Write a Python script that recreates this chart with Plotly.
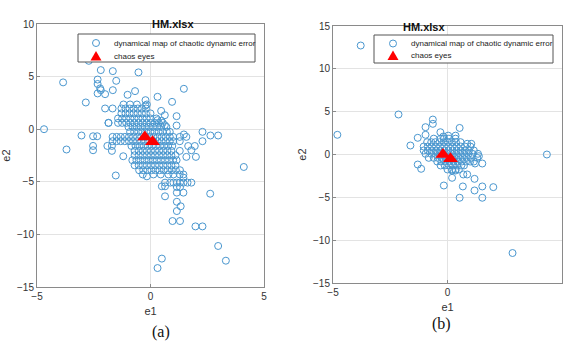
import plotly.graph_objects as go

# ---------------- Panel (a) data ----------------
# dense grid-like rows: (e2 value, list of e1 values)
rows_a = [
    (2.35, [-1.19, -0.9, -0.6, -0.16]),
    (1.97, [-2.0, -1.67, -1.28, -1.1, -0.92, -0.74, -0.56, -0.38, -0.2]),
    (1.5, [-1.28, -1.1, -0.92, -0.74, -0.56, -0.38, -0.2, 0.0]),
    (1.02, [-1.43, -1.25, -1.07, -0.89, -0.71, -0.53, -0.35, -0.17, 0.0, 0.26]),
    (0.6, [-1.85, -1.43, -1.25, -1.07, -0.89, -0.71, -0.53, -0.35, -0.17, 0.0, 0.18, 0.36, 0.54]),
    (0.22, [-0.97, -0.79, -0.61, -0.43, -0.25, -0.07, 0.11, 0.29, 0.47, 0.7]),
    (-0.25, [-0.9, -0.72, -0.54, -0.36, -0.18, 0.0, 0.18, 0.36, 0.54, 0.72, 0.85]),
    (-0.73, [-1.67, -1.49, -1.31, -1.13, -0.95, -0.77, -0.59, -0.41, -0.23, -0.05, 0.13, 0.31, 0.49, 0.67, 0.85, 1.0, 1.29, 1.58]),
    (-1.14, [-1.67, -1.49, -1.31, -1.13, -0.95, -0.77, -0.59, -0.41, -0.23, -0.05, 0.13, 0.31, 0.49, 0.67, 0.85, 1.0, 1.29]),
    (-1.59, [-1.9, -1.7, -0.84, -0.66, -0.48, -0.3, -0.12, 0.06, 0.24, 0.42, 0.6, 0.78, 0.96]),
    (-2.06, [-1.7, -0.7, -0.52, -0.34, -0.16, 0.02, 0.2, 0.38, 0.56, 0.74, 0.92, 1.29]),
    (-2.48, [-0.7, -0.52, -0.34, -0.16, 0.02, 0.2, 0.38, 0.56, 0.74, 0.92, 1.1]),
    (-2.95, [-0.8, -0.62, -0.44, -0.26, -0.08, 0.1, 0.28, 0.46, 0.64, 0.82, 1.0, 1.15]),
    (-3.43, [-0.7, -0.52, -0.34, -0.16, 0.02, 0.2, 0.38, 0.56, 0.74, 0.92, 1.1]),
    (-3.9, [-0.5, -0.32, -0.14, 0.04, 0.22, 0.4, 0.58, 0.76, 0.94, 1.12, 1.3]),
    (-4.3, [-0.34, 0.13, 0.45, 0.79, 1.01, 1.29, 1.45]),
    (-5.08, [0.64, 0.87, 1.01, 1.16, 1.3, 1.45, 1.63, 1.8]),
]
# scattered points
extra_e1_a = [-4.69, -3.85, -3.7, -3.04, -2.85, -2.72, -2.53, -2.35, -2.53, -2.53,
              -2.33, -2.33, -2.22, -2.19, -2.33, -2.0, -2.19, -1.66, -0.53, -1.51,
              -1.66, -1.01, -0.68, -1.53, -1.2, -0.22, 0.31, 0.95, 1.47, 0.47,
              0.63, 1.15, 1.15, 0.63, 0.31, 0.48, 2.29, 2.29, 2.64, 2.98,
              1.47, 1.66, 1.95, 1.8, 4.11, 1.58, 2.0, -0.16, 1.45, 0.5,
              0.64, 1.16, 1.3, 1.16, 1.45, 0.64, 2.63, 1.16, 1.33, 1.16,
              0.97, 1.3, 1.98, 2.29, 2.98, 3.32, 0.5, 0.31, -0.22, -1.85]
extra_e2_a = [0.0, 4.45, -1.93, -0.6, 2.54, 6.5, -0.67, -0.67, -1.59, -2.0,
              4.72, 4.3, 3.88, 3.71, 3.4, 3.33, 5.62, 5.52, 5.4, 4.6,
              3.71, 3.27, 3.62, -4.4, -2.57, 2.76, 3.08, 2.6, 3.84, 1.74,
              1.33, 1.24, 0.35, 0.38, 0.86, 0.8, -0.25, -1.14, -0.6, -0.6,
              -0.5, -1.6, -1.6, -2.0, -3.59, -2.63, -2.63, -4.48, -4.6, -5.43,
              -5.43, -5.5, -5.5, -6.03, -6.03, -6.38, -6.13, -6.9, -7.33, -7.78,
              -8.73, -8.73, -9.24, -9.24, -11.1, -12.5, -12.3, -13.2, 2.25, 0.6]
eyes_e1_a = [-0.25, 0.09]
eyes_e2_a = [-0.73, -1.2]

# ---------------- Panel (b) data ----------------
rows_b = [
    (1.85, [-0.6, -0.3, -0.15, 0.06, 0.35]),
    (1.44, [-0.89, -0.71, -0.53, -0.35, -0.17, 0.01, 0.19, 0.37, 0.57]),
    (0.93, [-1.04, -0.86, -0.68, -0.5, -0.32, -0.14, 0.04, 0.22, 0.4, 0.58, 0.76, 1.0]),
    (0.47, [-1.04, -0.86, -0.68, -0.5, -0.32, -0.14, 0.04, 0.22, 0.4, 0.58, 0.76, 0.94, 1.15]),
    (0.08, [-0.96, -0.71, -0.53, -0.35, -0.17, 0.01, 0.19, 0.37, 0.55, 0.73, 0.91, 1.09, 1.33]),
    (-0.39, [-0.82, -0.6, -0.42, -0.24, -0.06, 0.12, 0.3, 0.48, 0.66, 0.84, 1.02, 1.3]),
    (-0.82, [-0.45, -0.27, -0.09, 0.09, 0.27, 0.45, 0.63, 0.81, 0.99, 1.15]),
    (-1.28, [-0.3, -0.12, 0.06, 0.24, 0.42, 0.6, 0.72]),
    (-1.75, [0.0, 0.2, 0.35, 0.5]),
]
extra_e1_b = [-3.79, -4.81, -2.14, -0.64, -0.64, -0.96, -0.96, -1.62, -1.3, -1.3,
              -1.15, 0.53, 0.35, 4.34, 1.52, 1.2, 0.86, 1.04, 1.18, -0.31,
              0.03, -0.18, 0.86, 0.69, 0.2, -0.16, 0.67, 1.52, 2.0, 1.18,
              0.53, 1.52, 2.84, 0.2, 0.35, 1.37]
extra_e2_b = [12.72, 2.3, 4.67, 4.08, 3.58, 3.19, 2.3, 1.05, 1.95, -1.17,
              -1.67, 3.1, 2.2, 0.0, -1.05, -1.05, 1.25, 1.25, -2.84, 2.6,
              2.2, 2.1, -2.33, -2.33, -2.72, -3.62, -3.73, -3.73, -3.81, -4.2,
              -5.05, -5.05, -11.5, -1.87, -1.87, -0.2]
eyes_e1_b = [-0.2, 0.13]
eyes_e2_b = [0.0, -0.5]

x_ticks = [-5, 0, 5]
y_ticks_a = [-15, -10, -5, 0, 5, 10]
y_ticks_b = [-15, -10, -5, 0, 5, 10, 15]
legend_labels = ["dynamical map of chaotic dynamic error", "chaos eyes"]


def flatten(rows, ex, ey):
    xs, ys = [], []
    for yv, xl in rows:
        for xv in xl:
            xs.append(xv)
            ys.append(yv)
    return xs + ex, ys + ey


e1_a, e2_a = flatten(rows_a, extra_e1_a, extra_e2_a)
e1_b, e2_b = flatten(rows_b, extra_e1_b, extra_e2_b)

W, H = 563, 353
BLUE = "#4a97cf"
RED = "#ff0000"
FONT = "Liberation Sans, Arial, sans-serif"


def px(xp):
    return xp / W


def py(yp):
    return (H - yp) / H


fig = go.Figure()
for xs, ys, ex, ey, xa, ya in [(e1_a, e2_a, eyes_e1_a, eyes_e2_a, "x", "y"),
                               (e1_b, e2_b, eyes_e1_b, eyes_e2_b, "x2", "y2")]:
    fig.add_trace(go.Scatter(x=xs, y=ys, mode="markers", xaxis=xa, yaxis=ya,
                             name=legend_labels[0], showlegend=False,
                             marker=dict(symbol="circle-open", size=7, color=BLUE,
                                         line=dict(width=1, color=BLUE))))
    fig.add_trace(go.Scatter(x=ex, y=ey, mode="markers", xaxis=xa, yaxis=ya,
                             name=legend_labels[1], showlegend=False,
                             marker=dict(symbol="triangle-up", size=13, color=RED)))

axis_common = dict(showgrid=True, gridcolor="#e3e3e3", gridwidth=1, zeroline=False,
                   showline=True, mirror=True, linecolor="#8a8a8a", linewidth=1,
                   ticks="inside", ticklen=3, tickcolor="#8a8a8a", automargin=False,
                   tickfont=dict(family=FONT, size=10, color="#333333"))

# custom legends (box, glyphs and real text), positioned in paper coords
shapes = []
annotations = []
for (bx0, by0, bx1, by1, gx, r1, r2, tx) in [(78, 34, 255, 62, 96, 43, 56, 112),
                                             (374, 35, 553, 63, 393, 43.5, 55.5, 409)]:
    shapes.append(dict(type="rect", xref="paper", yref="paper",
                       x0=px(bx0), x1=px(bx1), y0=py(by1), y1=py(by0),
                       line=dict(color="#555555", width=1), fillcolor="white", layer="above"))
    shapes.append(dict(type="circle", xref="paper", yref="paper",
                       x0=px(gx - 3.5), x1=px(gx + 3.5), y0=py(r1 + 3.5), y1=py(r1 - 3.5),
                       line=dict(color=BLUE, width=1), layer="above"))
    shapes.append(dict(type="path", xref="paper", yref="paper",
                       path="M {:.5f},{:.5f} L {:.5f},{:.5f} L {:.5f},{:.5f} Z".format(
                           px(gx - 5.5), py(r2 + 4.5), px(gx + 5.5), py(r2 + 4.5), px(gx), py(r2 - 5)),
                       fillcolor=RED, line=dict(color=RED, width=0), layer="above"))
    for lab, ry in zip(legend_labels, [r1, r2]):
        annotations.append(dict(text=lab, x=px(tx), y=py(ry), xref="paper", yref="paper",
                                xanchor="left", yanchor="middle", showarrow=False,
                                font=dict(family=FONT, size=8, color="#222222")))

annotations += [
    dict(text="<b>HM.xlsx</b>", x=px(150), y=py(16), xref="paper", yref="paper",
         showarrow=False, font=dict(family=FONT, size=11, color="#111111")),
    dict(text="<b>HM.xlsx</b>", x=px(447), y=py(19), xref="paper", yref="paper",
         showarrow=False, font=dict(family=FONT, size=11, color="#111111")),
    dict(text="(a)", x=px(150), y=py(343), xref="paper", yref="paper",
         showarrow=False, font=dict(family="Liberation Serif, Times New Roman, serif", size=16, color="#111111")),
    dict(text="(b)", x=px(453), y=py(335), xref="paper", yref="paper",
         showarrow=False, font=dict(family="Liberation Serif, Times New Roman, serif", size=16, color="#111111")),
]

fig.update_layout(
    width=W, height=H,
    margin=dict(l=0, r=0, t=0, b=0),
    paper_bgcolor="white", plot_bgcolor="white",
    font=dict(family=FONT, color="#333333"),
    showlegend=False,
    xaxis=dict(domain=[px(37), px(264)], range=[-5, 5], tickvals=x_ticks, anchor="y",
               title=dict(text="e1", font=dict(size=11), standoff=6), **axis_common),
    yaxis=dict(domain=[py(287), py(24)], range=[-15, 10], tickvals=y_ticks_a, anchor="x",
               title=dict(text="e2", font=dict(size=11), standoff=4), **axis_common),
    xaxis2=dict(domain=[px(333), px(562)], range=[-5, 5], tickvals=x_ticks, anchor="y2",
                title=dict(text="e1", font=dict(size=11), standoff=6), **axis_common),
    yaxis2=dict(domain=[py(283), py(26)], range=[-15, 15], tickvals=y_ticks_b, anchor="x2",
                title=dict(text="e2", font=dict(size=11), standoff=4), **axis_common),
    shapes=shapes,
    annotations=annotations,
)

fig.write_html("out.html", config={"displayModeBar": False},
               post_script="document.body.style.margin='0px';document.body.style.overflow='hidden';")
